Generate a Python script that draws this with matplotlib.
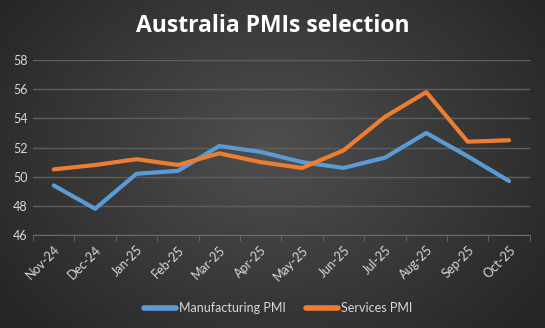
import numpy as np
import matplotlib
matplotlib.use("Agg")
import matplotlib.pyplot as plt

months = ["Nov-24", "Dec-24", "Jan-25", "Feb-25", "Mar-25", "Apr-25",
          "May-25", "Jun-25", "Jul-25", "Aug-25", "Sep-25", "Oct-25"]
manufacturing = [49.4, 47.8, 50.2, 50.4, 52.1, 51.7, 51.0, 50.6, 51.3, 53.0, 51.4, 49.7]
services = [50.5, 50.8, 51.2, 50.8, 51.6, 51.0, 50.6, 51.8, 54.1, 55.8, 52.4, 52.5]
yticks = [46, 48, 50, 52, 54, 56, 58]

plt.rcParams['font.family'] = ['Lato', 'DejaVu Sans']

fig = plt.figure(figsize=(5.45, 3.28), dpi=100)

# radial gradient background
bg = fig.add_axes([0, 0, 1, 1], zorder=0)
yy, xx = np.mgrid[0:328, 0:545]
r = np.sqrt(((xx - 272) / 330.0) ** 2 + ((yy - 150) / 260.0) ** 2)
r = np.clip(r, 0, 1)
val = 0.31 - 0.16 * r
img = np.dstack([val, val, val])
bg.imshow(img, aspect='auto', extent=[0, 1, 0, 1])
bg.axis('off')

ax = fig.add_axes([0.0606, 0.2835, 0.9114, 0.5335], zorder=1)
ax.patch.set_alpha(0)
x = np.arange(len(months))
ax.plot(x, manufacturing, color='#5B9BD5', lw=3, solid_capstyle='round',
        solid_joinstyle='round', label='Manufacturing PMI', zorder=3)
ax.plot(x, services, color='#ED7D31', lw=3, solid_capstyle='round',
        solid_joinstyle='round', label='Services PMI', zorder=3)

ax.set_xlim(-0.5, len(months) - 0.5)
ax.set_ylim(46, 58)
ax.set_yticks(yticks)
ax.set_xticks(x)
ax.set_xticklabels(months, rotation=45, ha='right', rotation_mode='anchor')
ax.set_xticks(np.arange(-0.5, len(months), 1), minor=True)
ax.grid(axis='y', color='#5e5e5e', lw=1)
for s in ['top', 'right', 'left']:
    ax.spines[s].set_visible(False)
ax.spines['bottom'].set_color('#6a6a6a')
ax.tick_params(axis='y', length=0, colors='#d9d9d9', labelsize=9, pad=4)
ax.tick_params(axis='x', which='major', length=0, colors='#d9d9d9', labelsize=9, pad=6)
ax.tick_params(axis='x', which='minor', length=4, color='#6a6a6a')

fig.text(0.5, 0.922, 'Australia PMIs selection', color='white', fontsize=16.5,
         fontweight='bold', ha='center', va='center',
         family=['Open Sans', 'DejaVu Sans'])

leg = fig.legend(loc='center', bbox_to_anchor=(0.51, 0.061), ncol=2, frameon=False,
                 fontsize=9, labelcolor='#d9d9d9', handlelength=2.6,
                 handletextpad=0.2, columnspacing=1.6)
for line in leg.get_lines():
    line.set_linewidth(4)

fig.savefig('out.png', dpi=100)
